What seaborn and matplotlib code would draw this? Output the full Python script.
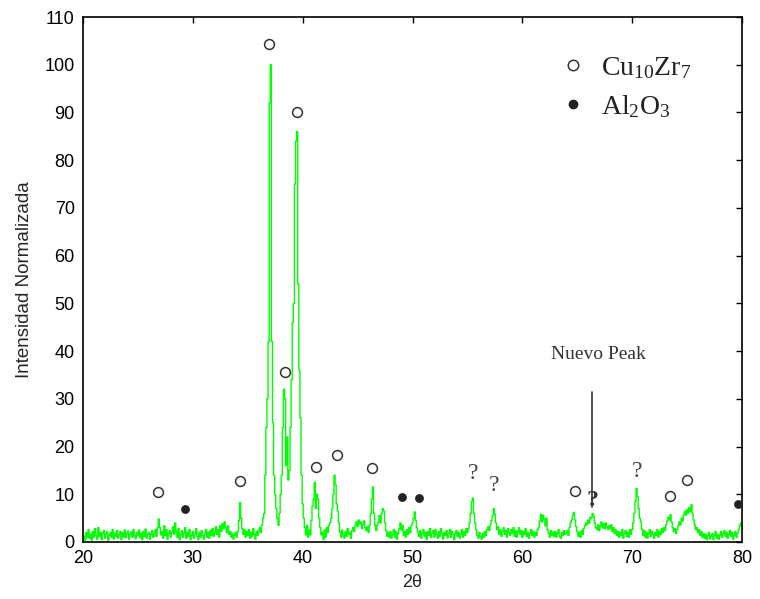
import numpy as np
import pandas as pd
import matplotlib
matplotlib.use("Agg")
import matplotlib.pyplot as plt
import seaborn as sns
from matplotlib.lines import Line2D

# ---------------- data ----------------
theta_start, theta_stop, theta_step = 20.0, 80.0, 0.1
intensity = [
    0.5, 1.2, 0.3, 2.0, 1.0, 2.6, 0.8, 1.5, 0.4, 2.2,   # 20
    1.0, 2.8, 1.4, 0.6, 3.0, 1.2, 2.0, 0.5, 1.8, 2.4,   # 21
    0.8, 1.6, 2.2, 0.4, 1.4, 2.0, 1.0, 2.6, 0.6, 1.8,   # 22
    1.2, 2.4, 0.8, 1.6, 2.2, 0.5, 1.9, 1.1, 2.5, 0.9,   # 23
    1.7, 2.3, 0.6, 1.5, 2.1, 1.0, 2.6, 1.3, 0.7, 2.0,   # 24
    1.4, 2.5, 0.9, 1.8, 0.5, 2.2, 1.2, 2.7, 0.8, 1.6,   # 25
    2.0, 0.6, 1.5, 2.4, 1.0, 1.8, 2.6, 1.2, 3.0, 4.8,   # 26
    3.0, 1.5, 2.2, 0.8, 3.4, 1.4, 2.6, 0.6, 1.8, 2.4,   # 27
    1.0, 2.0, 3.2, 1.6, 4.0, 2.2, 1.0, 2.8, 0.5, 1.6,   # 28
    2.4, 1.0, 1.8, 3.0, 0.8, 2.0, 1.2, 2.6, 0.5, 1.4,   # 29
    2.2, 0.8, 1.6, 2.8, 1.2, 0.5, 2.0, 1.0, 2.4, 1.4,   # 30
    0.6, 1.8, 2.6, 1.0, 2.0, 0.8, 2.4, 1.4, 2.8, 1.2,   # 31
    2.0, 3.2, 1.6, 2.6, 1.0, 3.4, 2.2, 3.8, 2.8, 4.2,   # 32
    3.0, 2.0, 3.4, 1.6, 2.2, 1.0, 1.8, 0.6, 1.4, 2.0,   # 33
    1.0, 2.2, 4.5, 8.3, 5.0, 2.8, 1.6, 2.6, 1.0, 2.2,   # 34
    1.4, 2.6, 0.8, 2.0, 1.2, 2.8, 1.6, 0.6, 2.2, 1.4,   # 35
    2.5, 3.0, 2.0, 3.5, 5.0, 6.0, 14.0, 24.0, 30.0, 42.0,  # 36
    92.0, 100.0, 42.0, 25.0, 14.0, 10.0, 7.0, 5.0, 3.5, 6.0,  # 37
    10.0, 14.0, 24.0, 32.0, 30.0, 16.0, 22.0, 13.0, 15.0, 24.0,  # 38
    34.0, 46.0, 50.0, 75.0, 84.0, 86.0, 54.0, 36.0, 26.0, 14.0,  # 39
    8.0, 5.0, 3.0, 1.5, 3.5, 1.0, 2.5, 1.5, 4.5, 7.5,   # 40
    9.0, 12.5, 7.0, 10.0, 9.0, 5.0, 3.0, 1.5, 2.0, 0.5,  # 41
    2.5, 1.0, 3.0, 2.0, 3.5, 4.0, 5.0, 7.0, 10.0, 14.0,  # 42
    12.0, 8.0, 6.5, 4.0, 2.0, 1.0, 2.5, 1.5, 0.8, 2.2,  # 43
    1.2, 2.8, 1.6, 2.0, 0.8, 2.4, 3.0, 2.2, 3.6, 4.2,   # 44
    3.2, 4.6, 3.8, 4.2, 2.8, 3.6, 4.4, 3.0, 2.4, 3.2,   # 45
    2.0, 3.5, 6.0, 9.0, 11.5, 6.0, 3.5, 2.4, 3.4, 4.2,  # 46
    5.5, 4.0, 6.0, 7.0, 6.5, 4.0, 2.4, 1.2, 2.0, 1.0,   # 47
    2.2, 0.8, 1.6, 2.6, 1.0, 2.2, 0.6, 1.8, 2.8, 4.0,   # 48
    2.5, 3.5, 1.4, 2.2, 1.0, 2.6, 1.6, 3.0, 2.0, 3.4,   # 49
    4.0, 5.0, 6.3, 4.5, 3.0, 2.0, 1.2, 2.4, 0.8, 1.8,   # 50
    2.6, 1.2, 2.0, 0.6, 2.2, 1.4, 2.8, 1.0, 1.8, 2.4,   # 51
    1.0, 2.6, 1.6, 0.8, 2.2, 1.2, 2.8, 1.8, 0.6, 2.0,   # 52
    1.4, 2.4, 0.9, 1.8, 2.6, 1.0, 2.2, 1.6, 0.5, 1.8,   # 53
    2.4, 1.2, 2.0, 0.8, 1.6, 2.6, 1.0, 2.2, 1.4, 2.8,   # 54
    2.0, 2.8, 4.0, 6.0, 8.5, 9.2, 6.0, 4.0, 2.6, 1.4,   # 55
    0.8, 2.0, 1.2, 0.6, 1.8, 1.0, 2.2, 1.4, 2.6, 3.2,   # 56
    2.4, 3.5, 4.5, 5.5, 7.0, 5.8, 4.0, 2.6, 3.2, 1.6,   # 57
    2.6, 1.2, 2.2, 3.0, 1.6, 2.4, 1.0, 2.8, 2.0, 1.4,   # 58
    2.6, 1.8, 3.0, 1.2, 2.4, 1.0, 2.2, 3.0, 1.6, 2.4,   # 59
    1.0, 2.2, 1.6, 2.8, 1.2, 2.0, 0.8, 1.8, 2.6, 1.4,   # 60
    2.2, 1.0, 2.0, 1.4, 2.6, 3.0, 4.4, 5.8, 4.2, 5.6,   # 61
    4.8, 3.4, 5.0, 2.6, 1.8, 1.0, 2.4, 1.4, 2.0, 1.2,   # 62
    2.2, 1.0, 1.8, 2.6, 1.2, 0.8, 2.0, 1.4, 2.4, 1.6,   # 63
    1.8, 2.4, 1.4, 3.0, 4.0, 4.6, 5.6, 6.2, 4.6, 3.2,   # 64
    2.2, 1.2, 2.0, 1.0, 2.4, 1.6, 2.8, 3.4, 4.0, 3.6,   # 65
    4.6, 4.0, 5.2, 5.0, 6.0, 5.4, 4.0, 3.0, 2.6, 3.6,   # 66
    2.4, 3.4, 4.2, 3.0, 3.8, 2.8, 4.0, 3.2, 2.6, 3.4,   # 67
    2.8, 3.6, 2.2, 3.0, 1.8, 2.6, 1.4, 2.2, 1.0, 2.0,   # 68
    1.4, 2.6, 0.8, 1.8, 2.4, 1.2, 2.0, 1.0, 2.6, 1.6,   # 69
    2.6, 4.0, 6.0, 8.5, 11.2, 9.5, 7.0, 5.0, 4.2, 2.6,  # 70
    1.4, 2.4, 1.0, 2.0, 0.8, 1.8, 2.6, 1.2, 2.2, 1.6,   # 71
    0.8, 2.0, 1.4, 2.6, 1.0, 2.2, 1.6, 2.8, 2.0, 3.0,   # 72
    2.4, 3.6, 4.4, 5.2, 4.6, 5.7, 4.2, 3.0, 2.2, 2.8,   # 73
    1.8, 2.6, 3.4, 4.2, 3.6, 5.0, 4.4, 5.8, 6.4, 5.6,   # 74
    6.8, 6.0, 7.2, 6.4, 7.8, 6.0, 4.6, 3.6, 2.6, 3.0,   # 75
    2.0, 2.6, 1.4, 2.2, 1.0, 1.8, 0.8, 1.6, 0.5, 1.4,   # 76
    2.0, 0.6, 1.2, 1.8, 0.5, 1.4, 2.2, 0.8, 1.6, 0.6,   # 77
    1.4, 2.2, 1.0, 1.8, 2.4, 1.2, 2.0, 0.8, 1.6, 2.4,   # 78
    1.2, 2.0, 0.6, 1.4, 2.2, 1.0, 1.8, 2.6, 3.4, 4.0,   # 79
    3.2,                                                 # 80
]

cu_theta = [26.8, 34.3, 36.9, 38.4, 39.5, 41.2, 43.1, 46.3, 64.8, 73.4, 75.0]
cu_int = [10.4, 12.7, 104.3, 35.7, 90.2, 15.8, 18.3, 15.6, 10.7, 9.7, 12.9]
al_theta = [29.3, 49.0, 50.6, 79.6]
al_int = [6.9, 9.5, 9.2, 7.9]
unk_theta = [55.5, 57.4, 70.4]
unk_int = [14.3, 11.8, 14.7]
new_peak_theta = 66.4
new_peak_q = 8.8
new_peak_line = (7.3, 31.4)
new_peak_label_y = 39.2

xticks = [20, 30, 40, 50, 60, 70, 80]
yticks = list(range(0, 111, 10))

legend_labels = [r"$\mathregular{Cu_{10}Zr_{7}}$", r"$\mathregular{Al_{2}O_{3}}$"]

# ---------------- style ----------------
sns.set_style("white")
plt.rcParams["font.family"] = ["Liberation Sans", "DejaVu Sans"]
plt.rcParams["mathtext.fontset"] = "custom"
plt.rcParams["mathtext.rm"] = "Liberation Serif"
plt.rcParams["mathtext.it"] = "Liberation Serif:italic"

two_theta = np.round(np.arange(theta_start, theta_stop + theta_step / 2, theta_step), 1)
df = pd.DataFrame({"theta": two_theta, "I": intensity})

fig = plt.figure(figsize=(7.60, 5.99), dpi=100)
ax = fig.add_axes([83 / 760, 1 - 542 / 599, (742 - 83) / 760, (542 - 17) / 599])

sns.lineplot(data=df, x="theta", y="I", ax=ax, color="#00ff00", lw=1.0,
             drawstyle="steps-mid", legend=False)

sns.scatterplot(x=cu_theta, y=cu_int, ax=ax, marker="o", s=50,
                facecolor="white", edgecolor="#333333", linewidth=1.1, zorder=5)
sns.scatterplot(x=al_theta, y=al_int, ax=ax, marker="o", s=34,
                color="#222222", edgecolor="#222222", zorder=5)

for t, v in zip(unk_theta, unk_int):
    ax.text(t, v, "?", ha="center", va="center", fontsize=17,
            family="Liberation Serif", color="#444444")
ax.text(new_peak_theta, new_peak_q, "?", ha="center", va="center", fontsize=17,
        family="Liberation Serif", fontweight="bold", color="#333333")
ax.plot([66.35, 66.35], list(new_peak_line), color="#333333", lw=1.2)
ax.text(66.9, new_peak_label_y, "Nuevo Peak", ha="center", va="center",
        fontsize=14, family="Liberation Serif", color="#333333")

handles = [
    Line2D([], [], ls="none", marker="o", markersize=7.5, markerfacecolor="white",
           markeredgecolor="#333333", markeredgewidth=1.1),
    Line2D([], [], ls="none", marker="o", markersize=6, markerfacecolor="#222222",
           markeredgecolor="#222222"),
]
leg = ax.legend(handles, legend_labels, loc="upper left",
                bbox_to_anchor=(545 / 760, 1 - 41 / 599), bbox_transform=fig.transFigure,
                frameon=False, prop={"family": "Liberation Serif", "size": 20},
                handlelength=1.0, handletextpad=0.5,
                labelspacing=0.45, borderpad=0.0)
for txt in leg.get_texts():
    txt.set_color("#222222")

ax.set_xlim(20, 80)
ax.set_ylim(0, 110)
ax.set_xticks(xticks)
ax.set_yticks(yticks)
ax.tick_params(axis="both", direction="in", length=4, width=1, labelsize=13,
               top=True, right=True, colors="black", pad=6)
for s in ax.spines.values():
    s.set_visible(True)
    s.set_color("black")
    s.set_linewidth(1.2)

ax.set_xlabel("2θ", fontsize=13, labelpad=5)
ax.set_ylabel("Intensidad Normalizada", fontsize=13.5, labelpad=8)

fig.savefig("out.png", dpi=100)
